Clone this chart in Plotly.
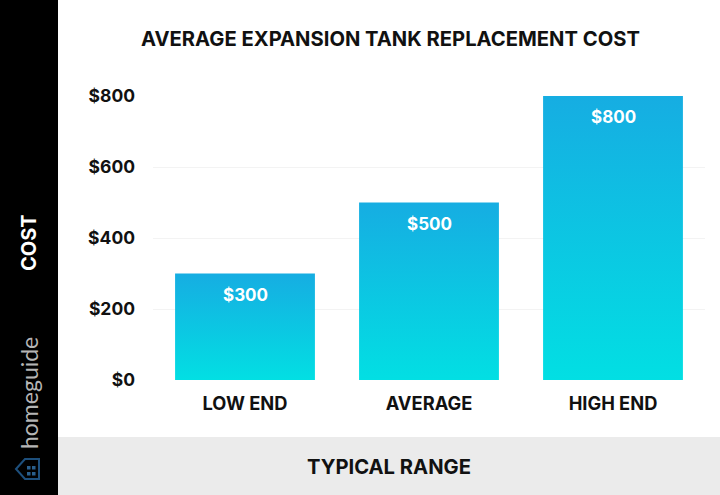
import plotly.graph_objects as go

categories = ["LOW END", "AVERAGE", "HIGH END"]
costs = [300, 500, 800]
bar_labels = ["$300", "$500", "$800"]
tick_values = [0, 200, 400, 600, 800]
tick_labels = ["$0", "$200", "$400", "$600", "$800"]

W, H = 720, 495
L, R, T, B = 153, 705, 96, 380
FONT = "Inter"


def px(x):
    return (x - L) / (R - L)


def py(y):
    return (B - y) / (B - T)


fig = go.Figure(go.Bar(
    x=categories, y=costs, width=0.76,
    marker=dict(color="#12bfe0", line=dict(width=0)),
    hoverinfo="skip",
))

pts = [(16, 469), (25, 459), (39, 459), (39, 479), (25, 479)]
icon_path = "M " + " L ".join(f"{px(a)} {py(b)}" for a, b in pts) + " Z"

shapes = [
    dict(type="rect", xref="paper", yref="paper", x0=px(0), x1=px(58), y0=py(H), y1=py(0),
         fillcolor="#000000", line_width=0, layer="below"),
    dict(type="rect", xref="paper", yref="paper", x0=px(58), x1=px(W), y0=py(H), y1=py(437),
         fillcolor="#ebebeb", line_width=0, layer="below"),
    dict(type="path", xref="paper", yref="paper", path=icon_path,
         fillcolor="rgba(0,0,0,0)", line=dict(color="#1d4f7c", width=2)),
]
for cx, cy in [(27, 466), (32, 466), (27, 472), (32, 472)]:
    shapes.append(dict(type="rect", xref="paper", yref="paper",
                       x0=px(cx), x1=px(cx + 3.5), y0=py(cy + 3.5), y1=py(cy),
                       fillcolor="#2a5f8c", line_width=0))

annotations = [
    dict(text="AVERAGE EXPANSION TANK REPLACEMENT COST", x=px(390), y=py(38),
         font=dict(family=FONT, size=20.2, color="#111111", weight=700)),
    dict(text="TYPICAL RANGE", x=px(389), y=py(466),
         font=dict(family=FONT, size=20.2, color="#111111", weight=700)),
    dict(text="COST", x=px(29), y=py(243), textangle=-90,
         font=dict(family=FONT, size=20, color="#ffffff", weight=700)),
    dict(text="homeguide", x=px(29), y=py(393), textangle=-90,
         font=dict(family="Lato", size=23, color="#b5b5b5")),
]
for a in annotations:
    a.update(xref="paper", yref="paper", showarrow=False, xanchor="center", yanchor="middle")

for cat, val, lab in zip(categories, costs, bar_labels):
    annotations.append(dict(
        text=lab, x=cat, y=val, xref="x", yref="y", yshift=-21, showarrow=False,
        xanchor="center", yanchor="middle",
        font=dict(family=FONT, size=17, color="white", weight=700),
    ))

fig.update_layout(
    width=W, height=H,
    margin=dict(l=L, r=W - R, t=T, b=H - B, pad=0),
    paper_bgcolor="white", plot_bgcolor="white",
    showlegend=False, shapes=shapes, annotations=annotations,
    xaxis=dict(showgrid=False, zeroline=False, showline=False, ticks="",
               ticklabelstandoff=11,
               tickfont=dict(family=FONT, size=18.3, color="#111111", weight=700)),
    yaxis=dict(range=[0, 800], tickvals=tick_values, ticktext=tick_labels,
               showgrid=True, gridcolor="#f3f3f3", gridwidth=1, zeroline=False,
               showline=False, ticks="", ticklabelstandoff=17,
               tickfont=dict(family=FONT, size=17.5, color="#111111", weight=700)),
)

post = """
document.documentElement.style.margin='0';document.body.style.margin='0';
var gd=document.getElementById('{plot_id}');
var svg=gd.querySelector('svg.main-svg');
var ns='http://www.w3.org/2000/svg';
var defs=svg.querySelector('defs');
var g=document.createElementNS(ns,'linearGradient');
g.setAttribute('id','barfade');g.setAttribute('x1','0');g.setAttribute('y1','0');g.setAttribute('x2','0');g.setAttribute('y2','1');
[['0','#16ade2'],['1','#02dfe3']].forEach(function(s){var t=document.createElementNS(ns,'stop');t.setAttribute('offset',s[0]);t.setAttribute('stop-color',s[1]);g.appendChild(t);});
defs.appendChild(g);
gd.querySelectorAll('.bars .point path').forEach(function(p){p.style.fill='url(#barfade)';});
"""
fig.write_html("out.html", post_script=post, config={"displayModeBar": False})
